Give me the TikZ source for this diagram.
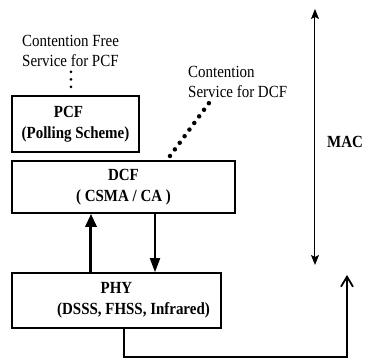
\documentclass[tikz,border=0pt]{standalone}
\usepackage{fontspec}
\setmainfont{Liberation Serif}[FakeStretch=0.88]
\usetikzlibrary{arrows.meta}
\tikzset{
  box/.style={draw, line width=1.6pt, inner sep=0pt, align=center,
    font=\fontsize{17}{21}\selectfont\bfseries},
  txt/.style={inner sep=0pt, align=left, font=\fontsize{17}{20}\selectfont},
  thickarr/.style={line width=3pt, -{Triangle[length=13pt,width=11pt]}},
  downarr/.style={line width=1.8pt, -{Triangle[length=14pt,width=10pt]}},
  macarr/.style={line width=1pt, {Stealth[length=10pt,width=8pt,inset=2pt]}-{Stealth[length=10pt,width=8pt,inset=2pt]}},
  retarr/.style={line width=1.8pt, -{Straight Barb[length=10pt,width=12pt]}},
  dotline/.style={line width=4.5pt, line cap=round, dash pattern=on 0pt off 8.2pt},
  smalldots/.style={line width=3pt, line cap=round, dash pattern=on 0pt off 7.5pt}
}
\begin{document}
\begin{tikzpicture}[x=1pt,y=-1pt]
\useasboundingbox (0,0) rectangle (368,363);
\node[box, minimum width=127pt, minimum height=56pt] (pcf) at (75.5,124) {\hspace*{-14pt}PCF\\(Polling Scheme)};
\node[box, minimum width=223pt, minimum height=52pt] (dcf) at (123.5,187) {DCF\\( CSMA / CA )};
\node[box, minimum width=209pt, minimum height=55pt] (phy) at (116.5,300.5) {PHY\\\hspace*{34pt}(DSSS, FHSS, Infrared)};
\node[txt, anchor=west] (cf) at (22,51) {Contention Free\\Service for PCF};
\node[txt, anchor=west] (cs) at (188,82) {Contention\\Service for DCF};
\node[inner sep=0pt, font=\fontsize{17}{18}\selectfont\bfseries] (mac) at (345,142) {MAC};
% dots above PCF
\coordinate (d1) at (71,72);
\coordinate (d2) at (71,87.5);
\draw[smalldots] (d1) -- (d2);
% dotted line to DCF
\coordinate (s1) at (170,156);
\coordinate (s2) at (209,103);
\draw[dotline] (s1) -- (s2);
% arrows between DCF and PHY
\coordinate (u) at (91,0);
\coordinate (dn) at (155,0);
\draw[thickarr] (phy.north -| u) -- (dcf.south -| u);
\draw[downarr] (dcf.south -| dn) -- (phy.north -| dn);
% MAC range
\coordinate (mt) at (315,9);
\coordinate (mb) at (315,265);
\draw[macarr] (mt) -- (mb);
% return path
\coordinate (r1) at (124,357);
\coordinate (r2) at (347,275);
\draw[retarr] (phy.south -| r1) -- (r1) -- (r1 -| r2) -- (r2);
\end{tikzpicture}
\end{document}
